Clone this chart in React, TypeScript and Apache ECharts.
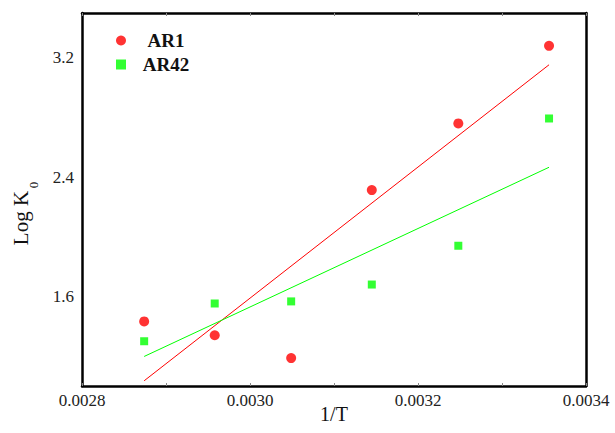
import React, { useEffect, useRef } from "react";
import * as echarts from "echarts";

const invT = [0.002874, 0.002958, 0.003049, 0.003145, 0.003248, 0.003356];
const ar1LogK = [1.433, 1.34, 1.187, 2.313, 2.76, 3.28];
const ar42LogK = [1.3, 1.553, 1.567, 1.68, 1.94, 2.793];
const fitX = [0.002874, 0.003356];
const ar1Fit = [1.035, 3.153];
const ar42Fit = [1.198, 2.466];
const xTickLabels = ["0.0028", "0.0030", "0.0032", "0.0034"];
const yTickLabels = ["1.6", "2.4", "3.2"];
const seriesNames = ["AR1", "AR42"];

const FONT = "Liberation Serif";
const X_MIN = 0.0028;
const Y_MIN = 1.0;

export default function App() {
  const ref = useRef<HTMLDivElement>(null);
  useEffect(() => {
    document.body.style.margin = "0";
    const chart = echarts.init(ref.current!, null, { renderer: "svg" });
    const pairs = (xs: number[], ys: number[]) => xs.map((x, i) => [x, ys[i]]);
    const xAxisBase = {
      type: "value",
      min: X_MIN,
      max: 0.0034,
      interval: 0.0002,
      splitLine: { show: false },
      axisLine: { show: true, onZero: false, lineStyle: { color: "#000", width: 2.5 } },
      axisTick: { show: true, inside: true, length: 3, lineStyle: { color: "#888", width: 1 } },
      minorTick: { show: true, splitNumber: 2, length: 3, lineStyle: { color: "#888", width: 1 } },
    };
    const nameGraphics = [
      {
        id: "yname",
        type: "text",
        x: 21,
        y: 218,
        rotation: Math.PI / 2,
        style: { text: "Log K", fontFamily: FONT, fontSize: 21, fill: "#111", align: "center", verticalAlign: "middle" },
      },
      {
        id: "ysub",
        type: "text",
        x: 33,
        y: 185,
        rotation: Math.PI / 2,
        style: { text: "0", fontFamily: FONT, fontSize: 13, fill: "#111", align: "center", verticalAlign: "middle" },
      },
    ];
    chart.setOption({
      animation: false,
      backgroundColor: "#fff",
      textStyle: { fontFamily: FONT },
      grid: { left: 82, right: 29, top: 13, bottom: 47, show: false, containLabel: false, outerBoundsMode: "none" },
      legend: {
        data: [
          { name: seriesNames[0], icon: "circle" },
          { name: seriesNames[1], icon: "rect" },
        ],
        orient: "vertical",
        left: 111,
        top: 26,
        itemWidth: 10,
        itemHeight: 10,
        itemGap: 5,
        formatter: (n: string) => `{c|${n}}`,
        textStyle: {
          fontFamily: FONT,
          fontWeight: "bold",
          fontSize: 19,
          color: "#111",
          rich: { c: { width: 70, align: "center", fontFamily: FONT, fontWeight: "bold", fontSize: 19, color: "#111" } },
        },
      },
      xAxis: [
        {
          ...xAxisBase,
          position: "bottom",
          name: "1/T",
          nameLocation: "middle",
          nameGap: 18,
          nameMoveOverlap: false,
          nameTextStyle: { fontFamily: FONT, fontSize: 20, color: "#111" },
          axisLabel: { show: false },
        },
        {
          ...xAxisBase,
          position: "top",
          axisLabel: { show: false },
        },
      ],
      yAxis: [
        {
          type: "value",
          min: Y_MIN,
          max: 3.5,
          interval: 0.2,
          splitLine: { show: false },
          axisTick: { show: false },
          axisLine: { show: true, onZero: false, lineStyle: { color: "#000", width: 2.5 } },
          axisLabel: { show: false },
        },
        {
          type: "value",
          position: "right",
          min: Y_MIN,
          max: 3.5,
          splitLine: { show: false },
          axisTick: { show: false },
          axisLabel: { show: false },
          axisLine: { show: true, onZero: false, lineStyle: { color: "#000", width: 2.5 } },
        },
      ],
      graphic: nameGraphics,
      series: [
        {
          name: seriesNames[0],
          type: "scatter",
          symbol: "circle",
          symbolSize: 10,
          itemStyle: { color: "#ff0000" },
          data: pairs(invT, ar1LogK),
          z: 3,
        },
        {
          name: seriesNames[1],
          type: "scatter",
          symbol: "rect",
          symbolSize: 8,
          itemStyle: { color: "#00ff00" },
          data: pairs(invT, ar42LogK),
          z: 3,
        },
        {
          name: "AR1 fit",
          type: "line",
          showSymbol: false,
          symbol: "none",
          lineStyle: { color: "#ff0000", width: 1 },
          data: pairs(fitX, ar1Fit),
          z: 2,
        },
        {
          name: "AR42 fit",
          type: "line",
          showSymbol: false,
          symbol: "none",
          lineStyle: { color: "#00ff00", width: 1 },
          data: pairs(fitX, ar42Fit),
          z: 2,
        },
      ],
    });

    try {
      const tickEls: any[] = [];
      xTickLabels.forEach((s, i) => {
        const p = chart.convertToPixel({ seriesIndex: 0 }, [parseFloat(s), Y_MIN]) as number[];
        tickEls.push({
          id: "xt" + i,
          type: "text",
          x: p[0],
          y: p[1] + 6,
          style: { text: s, fontFamily: FONT, fontSize: 17, fill: "#222", align: "center", verticalAlign: "top" },
        });
      });
      yTickLabels.forEach((s, i) => {
        const p = chart.convertToPixel({ seriesIndex: 0 }, [X_MIN, parseFloat(s)]) as number[];
        tickEls.push({
          id: "yt" + i,
          type: "text",
          x: p[0] - 8,
          y: p[1],
          style: { text: s, fontFamily: FONT, fontSize: 17, fill: "#222", align: "right", verticalAlign: "middle" },
        });
      });
      const ok = tickEls.every((e) => isFinite(e.x) && isFinite(e.y));
      if (!ok) throw new Error("bad pixel");
      chart.setOption({ graphic: [...nameGraphics, ...tickEls] });
    } catch (e) {
      chart.setOption({
        xAxis: [{ axisLabel: { show: true, fontSize: 17, color: "#222", margin: 6, formatter: (v: number) => v.toFixed(4) } }, {}],
        yAxis: [
          {
            axisLabel: {
              show: true,
              fontSize: 17,
              color: "#222",
              margin: 8,
              formatter: (v: number) => {
                const s = v.toFixed(1);
                return yTickLabels.includes(s) && Math.abs(v - parseFloat(s)) < 1e-6 ? s : "";
              },
            },
          },
          {},
        ],
      });
    }
    return () => chart.dispose();
  }, []);
  return <div ref={ref} style={{ width: 615, height: 433 }} />;
}
